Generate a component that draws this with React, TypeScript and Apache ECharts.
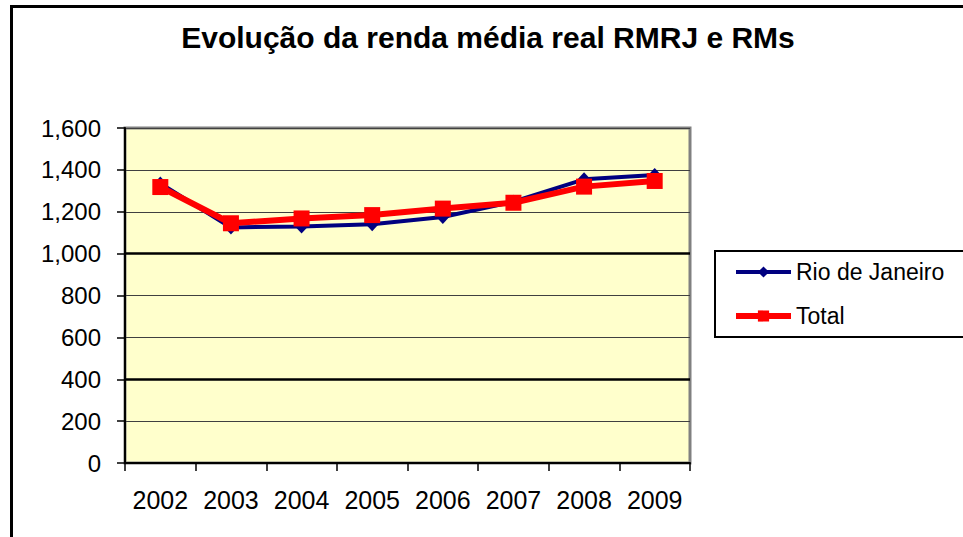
import React, { useEffect, useRef } from "react";
import * as echarts from "echarts";

const categories = ["2002", "2003", "2004", "2005", "2006", "2007", "2008", "2009"];
const rioValues = [1335, 1125, 1130, 1140, 1175, 1248, 1355, 1375];
const totalValues = [1318, 1145, 1168, 1184, 1215, 1243, 1320, 1347];
const seriesNames = ["Rio de Janeiro", "Total"];
const titleText = "Evolução da renda média real RMRJ e RMs";
const emphasisLines = [1000, 400];

export default function App() {
  const ref = useRef<HTMLDivElement>(null);
  useEffect(() => {
    if (!ref.current) return;
    const chart = echarts.init(ref.current, null, { renderer: "svg" });
    const font = "'Liberation Sans', Arial, sans-serif";
    chart.setOption({
      animation: false,
      backgroundColor: "#ffffff",
      textStyle: { fontFamily: font, color: "#000" },
      title: {
        text: titleText,
        left: 483,
        textAlign: "center",
        top: 17,
        textStyle: { fontFamily: font, fontSize: 30, fontWeight: "bold", color: "#000" },
      },
      graphic: [
        {
          type: "rect",
          shape: { x: 11.5, y: 6.5, width: 1000, height: 600 },
          style: { fill: "none", stroke: "#000", lineWidth: 3 },
          silent: true,
          z: 0,
        },
        {
          type: "rect",
          shape: { x: 715, y: 251, width: 300, height: 86 },
          style: { fill: "#fff", stroke: "#000", lineWidth: 2 },
          silent: true,
          z: 0,
        },
      ],
      legend: {
        orient: "vertical",
        left: 728,
        top: 255,
        itemWidth: 55,
        itemHeight: 14,
        itemGap: 20,
        textStyle: { fontFamily: font, fontSize: 23, lineHeight: 24, color: "#000" },
        data: [
          { name: seriesNames[0], lineStyle: { width: 4, color: "#000080" } },
          { name: seriesNames[1], lineStyle: { width: 6, color: "#FF0000" } },
        ],
        z: 5,
      },
      grid: {
        left: 125,
        right: 273,
        top: 128,
        bottom: 74,
        show: true,
        backgroundColor: "#FFFFCC",
        borderColor: "#808080",
        borderWidth: 3,
      },
      xAxis: {
        type: "category",
        data: categories,
        boundaryGap: true,
        axisLine: { lineStyle: { color: "#000", width: 2 } },
        axisTick: { show: true, length: 8, interval: 0, lineStyle: { color: "#000", width: 1.5 } },
        axisLabel: { fontFamily: font, fontSize: 25, color: "#000", margin: 24, interval: 0 },
        splitLine: { show: false },
      },
      yAxis: {
        type: "value",
        min: 0,
        max: 1600,
        interval: 200,
        axisLine: { show: true, lineStyle: { color: "#000", width: 2 } },
        axisTick: { show: true, length: 8, lineStyle: { color: "#000", width: 1.5 } },
        axisLabel: { fontFamily: font, fontSize: 24, color: "#000", margin: 24 },
        splitLine: { show: true, lineStyle: { color: "#404040", width: 1 } },
      },
      series: [
        {
          name: seriesNames[0],
          type: "line",
          data: rioValues,
          symbol: "diamond",
          symbolSize: [13, 14],
          itemStyle: { color: "#000080" },
          lineStyle: { color: "#000080", width: 4 },
          z: 3,
          markLine: {
            silent: true,
            symbol: "none",
            label: { show: false },
            lineStyle: { color: "#000", width: 2.5, type: "solid" },
            data: emphasisLines.map((v) => ({ yAxis: v })),
            z: 1,
          },
        },
        {
          name: seriesNames[1],
          type: "line",
          data: totalValues,
          symbol: "rect",
          symbolSize: 16,
          itemStyle: { color: "#FF0000" },
          lineStyle: { color: "#FF0000", width: 6 },
          z: 4,
        },
      ],
    });
    return () => chart.dispose();
  }, []);
  return <div ref={ref} style={{ position: "fixed", left: 0, top: 0, width: 963, height: 537 }} />;
}
